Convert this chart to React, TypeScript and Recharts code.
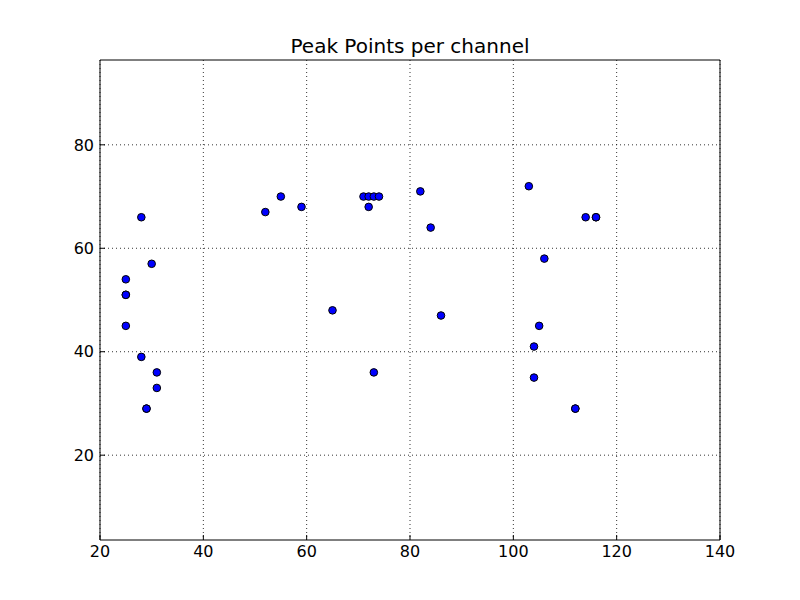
import React from 'react';
import { ScatterChart, Scatter, XAxis, YAxis, CartesianGrid, ReferenceArea } from 'recharts';

const channels: number[] = [25, 25, 25, 25, 28, 28, 29, 29, 30, 31, 31, 52, 55, 59, 65, 71, 72, 73, 74, 72, 73, 82, 84, 86, 103, 104, 104, 105, 106, 112, 112, 114, 116, 116];
const peaks: number[] = [54, 51, 51, 45, 66, 39, 29, 29, 57, 36, 33, 67, 70, 68, 48, 70, 70, 70, 70, 68, 36, 71, 64, 47, 72, 41, 35, 45, 58, 29, 29, 66, 66, 66];
const xTicks: number[] = [20, 40, 60, 80, 100, 120, 140];
const yTicks: number[] = [20, 40, 60, 80];

const data = channels.map((c, i) => ({ x: c, y: peaks[i] }));

const Dot = (props: any) => {
  const { cx, cy } = props;
  if (cx == null || cy == null) return null;
  return <circle cx={cx} cy={cy} r={3.8} fill="#0000ff" stroke="#000" strokeWidth={1} />;
};

const font = 'DejaVu Sans, sans-serif';
const TL = 5;

const BottomTick = (props: any) => {
  const { x, y, payload } = props;
  return (
    <g>
      <line x1={x} y1={y} x2={x} y2={y - TL} stroke="#000" strokeWidth={1} />
      <text x={x} y={y + 6} dy="0.71em" textAnchor="middle" fill="#000" fontSize={16} fontFamily={font}>{payload.value}</text>
    </g>
  );
};
const TopTick = (props: any) => {
  const { x, y } = props;
  return <line x1={x} y1={y} x2={x} y2={y + TL} stroke="#000" strokeWidth={1} />;
};
const LeftTick = (props: any) => {
  const { x, y, payload } = props;
  return (
    <g>
      <line x1={x} y1={y} x2={x + TL} y2={y} stroke="#000" strokeWidth={1} />
      <text x={x - 6} y={y} dy="0.36em" textAnchor="end" fill="#000" fontSize={16} fontFamily={font}>{payload.value}</text>
    </g>
  );
};
const RightTick = (props: any) => {
  const { x, y } = props;
  return <line x1={x} y1={y} x2={x - TL} y2={y} stroke="#000" strokeWidth={1} />;
};

export default function App() {
  return (
    <div style={{ position: 'absolute', left: 0, top: 0, width: 800, height: 600, background: '#fff' }}>
      <div style={{ position: 'absolute', left: 100, width: 620, top: 36, lineHeight: '20px', textAlign: 'center', fontFamily: font, fontSize: 20, color: '#000' }}>
        Peak Points per channel
      </div>
      <ScatterChart width={800} height={600} margin={{ top: 60, right: 80, bottom: 0, left: 0 }}>
        <CartesianGrid xAxisId="b" yAxisId="l" stroke="#000" strokeDasharray="1 3" strokeWidth={0.8} horizontalValues={yTicks} verticalValues={xTicks} />
        <XAxis
          xAxisId="b"
          type="number"
          dataKey="x"
          domain={[20, 140]}
          ticks={xTicks}
          height={60}
          tickLine={false}
          axisLine={false}
          tickSize={0}
          tickMargin={0}
          tick={<BottomTick />}
        />
        <XAxis
          xAxisId="t"
          orientation="top"
          type="number"
          dataKey="x"
          domain={[20, 140]}
          ticks={xTicks}
          height={0}
          tickLine={false}
          axisLine={false}
          tickSize={0}
          tickMargin={0}
          tick={<TopTick />}
        />
        <YAxis
          yAxisId="l"
          type="number"
          dataKey="y"
          domain={[3.6, 96.4]}
          ticks={yTicks}
          width={100}
          tickLine={false}
          axisLine={false}
          tickSize={0}
          tickMargin={0}
          tick={<LeftTick />}
        />
        <YAxis
          yAxisId="r"
          orientation="right"
          type="number"
          dataKey="y"
          domain={[3.6, 96.4]}
          ticks={yTicks}
          width={0}
          tickLine={false}
          axisLine={false}
          tickSize={0}
          tickMargin={0}
          tick={<RightTick />}
        />
        <ReferenceArea xAxisId="b" yAxisId="l" x1={20} x2={140} y1={3.6} y2={96.4} fill="none" stroke="#000" strokeWidth={1} />
        <Scatter xAxisId="b" yAxisId="l" data={data} isAnimationActive={false} shape={<Dot />} />
      </ScatterChart>
    </div>
  );
}
